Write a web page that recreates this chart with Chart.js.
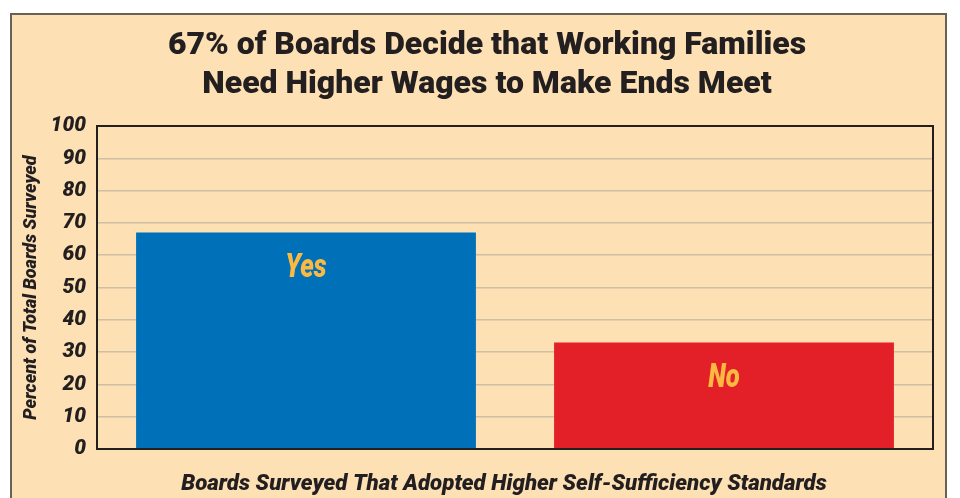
<!DOCTYPE html>
<html>
<head>
<meta charset="utf-8">
<script src="https://cdn.jsdelivr.net/npm/chart.js@4"></script>
<style>
  html, body { margin: 0; padding: 0; background: #fff; overflow: hidden; }
  #frame {
    position: absolute; left: 10px; top: 13px; width: 933px; height: 600px;
    border: 2px solid #6b6055; background: #fde1b4;
  }
  #chart { position: absolute; left: 0; top: 0; }
</style>
</head>
<body>
<div id="frame"></div>
<canvas id="chart" width="960" height="498"></canvas>
<script>
const titleLines = [
  "67% of Boards Decide that Working Families",
  "Need Higher Wages to Make Ends Meet",
];
const categories = ["Yes", "No"];
const percentValues = [67, 33];
const barColors = ["#0070b9", "#e31f27"];
const yAxisTitle = "Percent of Total Boards Surveyed";
const xAxisTitle = "Boards Surveyed That Adopted Higher Self-Sufficiency Standards";

const ink = "#231f20";
const face = "Roboto, 'Liberation Sans', Arial, sans-serif";

// Heading and x-axis caption, placed like the printed figure
const captions = {
  id: "captions",
  afterDraw(chart) {
    const { ctx } = chart;
    ctx.save();
    ctx.fillStyle = ink;
    ctx.textAlign = "center";
    ctx.textBaseline = "alphabetic";
    ctx.font = "900 32px " + face;
    titleLines.forEach((line, i) => ctx.fillText(line, 487, 54 + i * 39));
    ctx.font = "italic 900 22.3px " + face;
    ctx.fillText(xAxisTitle, 504, 490);
    ctx.restore();
  },
};

// Frame around the plot area
const plotFrame = {
  id: "plotFrame",
  afterDatasetsDraw(chart) {
    const { ctx, chartArea: a } = chart;
    ctx.save();
    ctx.strokeStyle = ink;
    ctx.lineWidth = 2;
    ctx.strokeRect(a.left, a.top, a.right - a.left, a.bottom - a.top);
    ctx.restore();
  },
};

// Category names inside the bars (condensed)
const barLabels = {
  id: "barLabels",
  afterDatasetsDraw(chart) {
    const { ctx } = chart;
    const meta = chart.getDatasetMeta(0);
    ctx.save();
    ctx.fillStyle = "#fbb942";
    ctx.font = "italic 900 33px " + face;
    ctx.textAlign = "center";
    ctx.textBaseline = "middle";
    meta.data.forEach((bar, i) => {
      ctx.save();
      ctx.translate(bar.x, bar.y + 36);
      ctx.scale(0.78, 1);
      ctx.fillText(chart.data.labels[i], 0, 0);
      ctx.restore();
    });
    ctx.restore();
  },
};

new Chart(document.getElementById("chart"), {
  type: "bar",
  data: {
    labels: categories,
    datasets: [
      {
        data: percentValues,
        backgroundColor: barColors,
        borderWidth: 0,
        barPercentage: 0.813,
        categoryPercentage: 1,
      },
    ],
  },
  options: {
    responsive: false,
    animation: false,
    devicePixelRatio: 1,
    layout: { padding: { top: 126, right: 27, left: 0, bottom: 0 } },
    plugins: {
      legend: { display: false },
      tooltip: { enabled: false },
      title: { display: false },
    },
    scales: {
      x: {
        ticks: { display: false },
        grid: { display: false, drawTicks: false },
        border: { display: false },
        afterFit(scale) {
          scale.height = 49;
        },
      },
      y: {
        min: 0,
        max: 100,
        ticks: {
          stepSize: 10,
          padding: 11,
          color: ink,
          font: { family: face, size: 21, weight: 900, style: "italic" },
        },
        grid: { color: "#cdbea6", lineWidth: 1.5, drawTicks: false },
        border: { display: false },
        title: {
          display: true,
          text: yAxisTitle,
          color: ink,
          font: { family: face, size: 18, weight: 900, style: "italic" },
          padding: { top: 21, bottom: 0 },
        },
        afterFit(scale) {
          scale.width = 97;
        },
      },
    },
  },
  plugins: [plotFrame, barLabels, captions],
});
</script>
</body>
</html>
